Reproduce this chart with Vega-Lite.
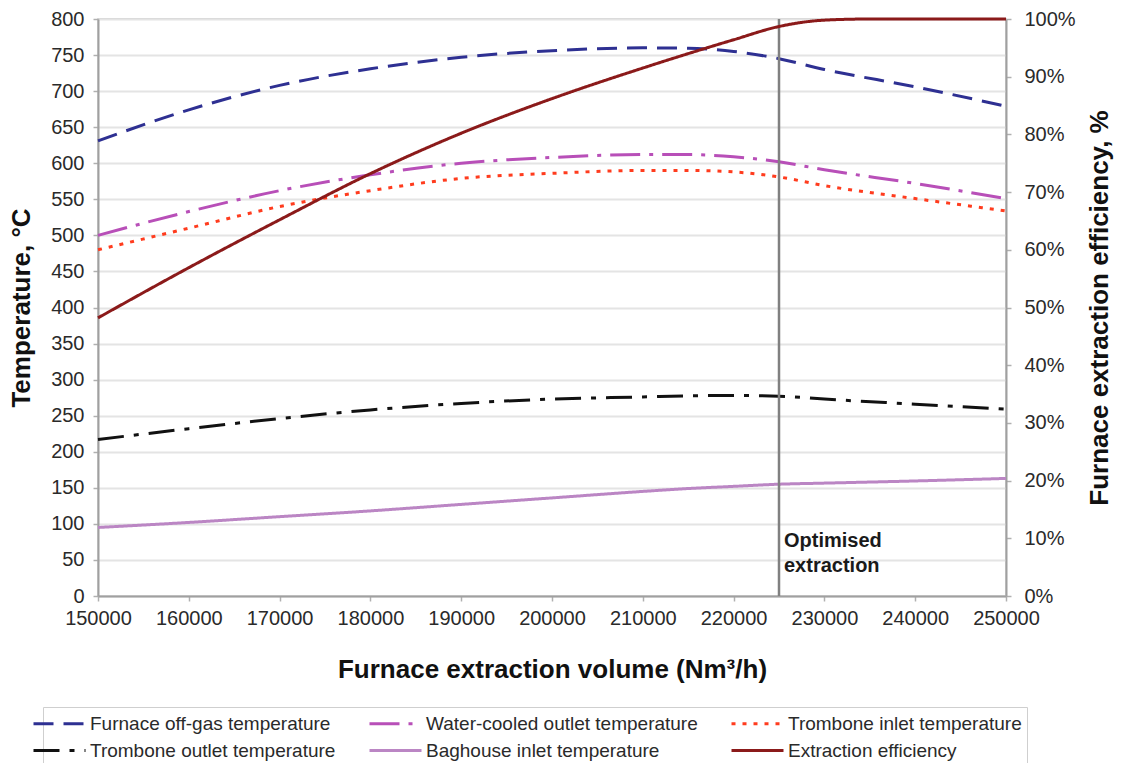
{
  "$schema": "https://vega.github.io/schema/vega-lite/v6.json",
  "width": 908,
  "height": 577,
  "autosize": {"type": "none"},
  "padding": {"left": 98, "top": 19, "right": 121, "bottom": 167},
  "background": "white",
  "config": {
    "font": "Liberation Sans",
    "view": {"stroke": "#c4c4c4", "strokeWidth": 1.5},
    "axis": {
      "labelFont": "Liberation Sans",
      "labelFontSize": 20,
      "labelColor": "#2a2a2a",
      "labelOverlap": false,
      "titleFont": "Liberation Sans",
      "titleFontSize": 26,
      "titleFontWeight": "bold",
      "titleColor": "#111111",
      "domainColor": "#a0a0a0",
      "domainWidth": 2,
      "tickColor": "#b0b0b0",
      "tickSize": 5,
      "tickWidth": 1.5
    },
    "legend": {
      "labelFont": "Liberation Sans",
      "labelFontSize": 19,
      "labelColor": "#2a2a2a",
      "labelLimit": 500
    }
  },
  "datasets": {
    "temps": [
      {"volume": 150000, "series": "Furnace off-gas temperature", "value": 631},
      {"volume": 160000, "series": "Furnace off-gas temperature", "value": 674},
      {"volume": 170000, "series": "Furnace off-gas temperature", "value": 708},
      {"volume": 180000, "series": "Furnace off-gas temperature", "value": 731},
      {"volume": 190000, "series": "Furnace off-gas temperature", "value": 747},
      {"volume": 200000, "series": "Furnace off-gas temperature", "value": 756},
      {"volume": 210000, "series": "Furnace off-gas temperature", "value": 760},
      {"volume": 215000, "series": "Furnace off-gas temperature", "value": 759.5},
      {"volume": 220000, "series": "Furnace off-gas temperature", "value": 755},
      {"volume": 225000, "series": "Furnace off-gas temperature", "value": 745},
      {"volume": 230000, "series": "Furnace off-gas temperature", "value": 730},
      {"volume": 240000, "series": "Furnace off-gas temperature", "value": 706},
      {"volume": 250000, "series": "Furnace off-gas temperature", "value": 679},
      {"volume": 150000, "series": "Water-cooled outlet temperature", "value": 500},
      {"volume": 160000, "series": "Water-cooled outlet temperature", "value": 533},
      {"volume": 170000, "series": "Water-cooled outlet temperature", "value": 562},
      {"volume": 180000, "series": "Water-cooled outlet temperature", "value": 584},
      {"volume": 190000, "series": "Water-cooled outlet temperature", "value": 600},
      {"volume": 200000, "series": "Water-cooled outlet temperature", "value": 608},
      {"volume": 210000, "series": "Water-cooled outlet temperature", "value": 612},
      {"volume": 215000, "series": "Water-cooled outlet temperature", "value": 612},
      {"volume": 220000, "series": "Water-cooled outlet temperature", "value": 609},
      {"volume": 225000, "series": "Water-cooled outlet temperature", "value": 602},
      {"volume": 230000, "series": "Water-cooled outlet temperature", "value": 591},
      {"volume": 240000, "series": "Water-cooled outlet temperature", "value": 572},
      {"volume": 250000, "series": "Water-cooled outlet temperature", "value": 551},
      {"volume": 150000, "series": "Trombone inlet temperature", "value": 480},
      {"volume": 160000, "series": "Trombone inlet temperature", "value": 510},
      {"volume": 170000, "series": "Trombone inlet temperature", "value": 540},
      {"volume": 180000, "series": "Trombone inlet temperature", "value": 562},
      {"volume": 190000, "series": "Trombone inlet temperature", "value": 579},
      {"volume": 200000, "series": "Trombone inlet temperature", "value": 586},
      {"volume": 210000, "series": "Trombone inlet temperature", "value": 590},
      {"volume": 215000, "series": "Trombone inlet temperature", "value": 590},
      {"volume": 220000, "series": "Trombone inlet temperature", "value": 588},
      {"volume": 225000, "series": "Trombone inlet temperature", "value": 581},
      {"volume": 230000, "series": "Trombone inlet temperature", "value": 569},
      {"volume": 240000, "series": "Trombone inlet temperature", "value": 551},
      {"volume": 250000, "series": "Trombone inlet temperature", "value": 534},
      {"volume": 150000, "series": "Trombone outlet temperature", "value": 217},
      {"volume": 160000, "series": "Trombone outlet temperature", "value": 232},
      {"volume": 170000, "series": "Trombone outlet temperature", "value": 246},
      {"volume": 180000, "series": "Trombone outlet temperature", "value": 258},
      {"volume": 190000, "series": "Trombone outlet temperature", "value": 267},
      {"volume": 200000, "series": "Trombone outlet temperature", "value": 273},
      {"volume": 210000, "series": "Trombone outlet temperature", "value": 276},
      {"volume": 215000, "series": "Trombone outlet temperature", "value": 277.5},
      {"volume": 220000, "series": "Trombone outlet temperature", "value": 278},
      {"volume": 225000, "series": "Trombone outlet temperature", "value": 277},
      {"volume": 230000, "series": "Trombone outlet temperature", "value": 273},
      {"volume": 240000, "series": "Trombone outlet temperature", "value": 266},
      {"volume": 250000, "series": "Trombone outlet temperature", "value": 259},
      {"volume": 150000, "series": "Baghouse inlet temperature", "value": 95},
      {"volume": 160000, "series": "Baghouse inlet temperature", "value": 102},
      {"volume": 170000, "series": "Baghouse inlet temperature", "value": 110},
      {"volume": 180000, "series": "Baghouse inlet temperature", "value": 118},
      {"volume": 190000, "series": "Baghouse inlet temperature", "value": 127},
      {"volume": 200000, "series": "Baghouse inlet temperature", "value": 136},
      {"volume": 210000, "series": "Baghouse inlet temperature", "value": 145},
      {"volume": 215000, "series": "Baghouse inlet temperature", "value": 149},
      {"volume": 220000, "series": "Baghouse inlet temperature", "value": 152},
      {"volume": 225000, "series": "Baghouse inlet temperature", "value": 155},
      {"volume": 230000, "series": "Baghouse inlet temperature", "value": 156.5},
      {"volume": 240000, "series": "Baghouse inlet temperature", "value": 159.5},
      {"volume": 250000, "series": "Baghouse inlet temperature", "value": 163}
    ],
    "eff": [
      {"volume": 150000, "series": "Extraction efficiency", "value": 48.2},
      {"volume": 160000, "series": "Extraction efficiency", "value": 56.9},
      {"volume": 170000, "series": "Extraction efficiency", "value": 65.2},
      {"volume": 180000, "series": "Extraction efficiency", "value": 73.2},
      {"volume": 190000, "series": "Extraction efficiency", "value": 80.2},
      {"volume": 200000, "series": "Extraction efficiency", "value": 86.2},
      {"volume": 210000, "series": "Extraction efficiency", "value": 91.5},
      {"volume": 220000, "series": "Extraction efficiency", "value": 96.4},
      {"volume": 225000, "series": "Extraction efficiency", "value": 98.7},
      {"volume": 230000, "series": "Extraction efficiency", "value": 99.8},
      {"volume": 235000, "series": "Extraction efficiency", "value": 100},
      {"volume": 240000, "series": "Extraction efficiency", "value": 100},
      {"volume": 250000, "series": "Extraction efficiency", "value": 100}
    ],
    "marker": [
      {"volume": 225000, "label": "Optimised\nextraction"}
    ]
  },
  "encoding": {
    "x": {
      "field": "volume",
      "type": "quantitative",
      "scale": {"domain": [150000, 250000], "nice": false, "zero": false},
      "axis": {
        "title": "Furnace extraction volume (Nm³/h)",
        "values": [150000, 160000, 170000, 180000, 190000, 200000, 210000, 220000, 230000, 240000, 250000],
        "format": "d",
        "grid": false,
        "labelPadding": 7,
        "titlePadding": 28,
        "labelFlush": false
      }
    }
  },
  "layer": [
    {
      "layer": [
        {
          "data": {"name": "temps"},
          "mark": {"type": "line", "interpolate": "monotone"},
          "encoding": {
            "y": {
              "field": "value",
              "type": "quantitative",
              "scale": {"domain": [0, 800], "nice": false},
              "axis": {
                "title": "Temperature, °C",
                "values": [0, 50, 100, 150, 200, 250, 300, 350, 400, 450, 500, 550, 600, 650, 700, 750, 800],
                "grid": true,
                "gridColor": "#e4e4e4",
                "gridWidth": 2,
                "labelPadding": 9,
                "titlePadding": 16,
                "labelFlush": false,
                "labelOverlap": false
              }
            },
            "color": {
              "field": "series",
              "type": "nominal",
              "scale": {
                "domain": ["Furnace off-gas temperature", "Water-cooled outlet temperature", "Trombone inlet temperature", "Trombone outlet temperature", "Baghouse inlet temperature", "Extraction efficiency"],
                "range": ["#2E3092", "#B84FB8", "#FF3C1E", "#111111", "#BB86C4", "#8B1A1A"]
              },
              "legend": {
                "title": null,
                "orient": "none",
                "legendX": -55,
                "legendY": 688,
                "direction": "horizontal",
                "columns": 3,
                "columnPadding": 27,
                "rowPadding": 5,
                "symbolType": "M-2.6,0H2.6",
                "symbolSize": 400,
                "labelOffset": 19,
                "padding": 5,
                "strokeColor": "#cfcfcf",
                "fillColor": "white"
              }
            },
            "strokeDash": {
              "field": "series",
              "type": "nominal",
              "scale": {
                "domain": ["Furnace off-gas temperature", "Water-cooled outlet temperature", "Trombone inlet temperature", "Trombone outlet temperature", "Baghouse inlet temperature", "Extraction efficiency"],
                "range": [[20, 10], [30, 9, 4, 9], [4, 7], [26, 10, 5, 10], [1, 0], [1, 0]]
              },
              "legend": {"title": null}
            },
            "strokeWidth": {
              "field": "series",
              "type": "nominal",
              "scale": {
                "domain": ["Furnace off-gas temperature", "Water-cooled outlet temperature", "Trombone inlet temperature", "Trombone outlet temperature", "Baghouse inlet temperature", "Extraction efficiency"],
                "range": [3, 3, 3.2, 3, 2.5, 4.5]
              },
              "legend": {"title": null}
            }
          }
        },
        {
          "data": {"name": "marker"},
          "mark": {"type": "rule", "color": "#808080", "strokeWidth": 2.5},
          "encoding": {
            "y": {
              "datum": 0,
              "type": "quantitative",
              "axis": {
                "title": "Temperature, °C",
                "values": [0, 50, 100, 150, 200, 250, 300, 350, 400, 450, 500, 550, 600, 650, 700, 750, 800],
                "grid": true,
                "gridColor": "#e4e4e4",
                "gridWidth": 2,
                "labelPadding": 9,
                "titlePadding": 16,
                "labelFlush": false,
                "labelOverlap": false
              }
            },
            "y2": {"datum": 800}
          }
        },
        {
          "data": {"name": "marker"},
          "mark": {"type": "text", "align": "left", "baseline": "top", "dx": 5, "fontSize": 20, "fontWeight": "bold", "font": "Liberation Sans", "color": "#1a1a1a", "lineBreak": "\n", "lineHeight": 25},
          "encoding": {
            "y": {
              "datum": 90,
              "type": "quantitative",
              "axis": {
                "title": "Temperature, °C",
                "values": [0, 50, 100, 150, 200, 250, 300, 350, 400, 450, 500, 550, 600, 650, 700, 750, 800],
                "grid": true,
                "gridColor": "#e4e4e4",
                "gridWidth": 2,
                "labelPadding": 9,
                "titlePadding": 16,
                "labelFlush": false,
                "labelOverlap": false
              }
            },
            "text": {"field": "label"}
          }
        }
      ]
    },
    {
      "data": {"name": "eff"},
      "mark": {"type": "line", "interpolate": "monotone"},
      "encoding": {
        "y": {
          "field": "value",
          "type": "quantitative",
          "scale": {"domain": [0, 100], "nice": false},
          "axis": {
            "orient": "right",
            "title": "Furnace extraction efficiency, %",
            "values": [0, 10, 20, 30, 40, 50, 60, 70, 80, 90, 100],
            "labelExpr": "datum.value + '%'",
            "grid": false,
            "labelPadding": 13,
            "titlePadding": 37,
            "titleAngle": 270,
            "labelFlush": false
          }
        },
        "color": {
          "field": "series",
          "type": "nominal"
        },
        "strokeDash": {
          "field": "series",
          "type": "nominal"
        },
        "strokeWidth": {
          "field": "series",
          "type": "nominal"
        }
      }
    }
  ],
  "resolve": {"scale": {"y": "independent"}}
}
